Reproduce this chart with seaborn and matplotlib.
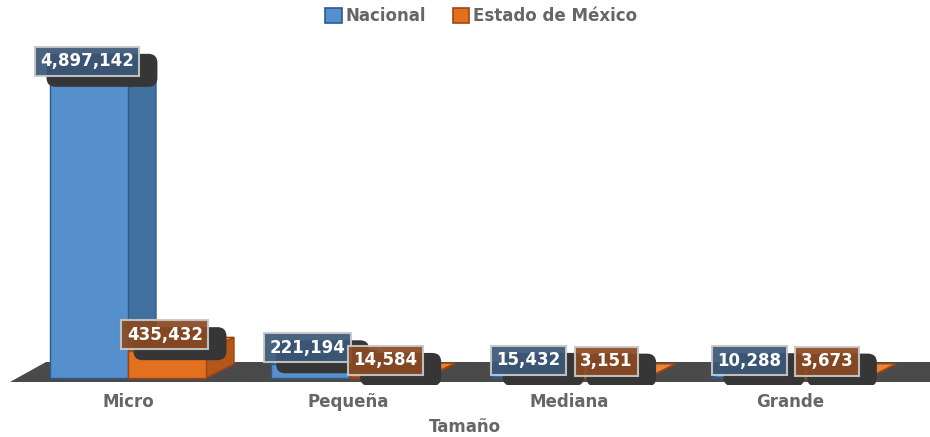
import pandas as pd
import seaborn as sns
import matplotlib.pyplot as plt
from matplotlib.patches import Patch, Polygon, FancyBboxPatch

categories = ["Micro", "Pequeña", "Mediana", "Grande"]
nacional = [4897142, 221194, 15432, 10288]
edomex = [435432, 14584, 3151, 3673]
series = ["Nacional", "Estado de México"]

df = pd.DataFrame({
    "Tamaño": categories * 2,
    "Empresas": nacional + edomex,
    "Serie": [series[0]] * 4 + [series[1]] * 4,
})

front = {"Nacional": "#5690cc", "Estado de México": "#e2701f"}
side = {"Nacional": "#42709e", "Estado de México": "#b5561a"}
top = {"Nacional": "#6aa0d8", "Estado de México": "#ec8335"}
edge = {"Nacional": "#2c5a8c", "Estado de México": "#9c4510"}
label_bg = {"Nacional": "#3a5878", "Estado de México": "#8a4a22"}
txt_gray = "#666666"

sns.set_style("white")
fig = plt.figure(figsize=(9.3, 4.37), dpi=100)
ax = fig.add_axes([0, 52 / 437, 1, 385 / 437])

s = max(nacional) / 300.0          # data units per pixel (y)
px = 1 / 220.7                    # data units per pixel (x)
dx, dy = 28 * px, 14 * s

sns.barplot(data=df, x="Tamaño", y="Empresas", hue="Serie", order=categories,
            hue_order=series, palette=front, saturation=1, width=0.707, dodge=True,
            legend=False, ax=ax, zorder=3)

ax.set_xlim(-128 * px, 3 + 140 * px)
ax.set_ylim(-7 * s, 378 * s)

# floor
fl, fr = -118 * px, 772 * px + 3
floor = Polygon([(fl, -4 * s), (fl + dx + 8 * px, 16 * s), (fr + dx, 16 * s), (fr, -4 * s)],
                closed=True, facecolor="#4a4a4a", edgecolor="none", zorder=1)
ax.add_patch(floor)

# 3d faces
for name, cont in zip(series, ax.containers):
    for bar in cont:
        x0, w, h = bar.get_x(), bar.get_width(), bar.get_height()
        x1 = x0 + w
        bar.set_edgecolor(edge[name])
        bar.set_linewidth(1)
        ax.add_patch(Polygon([(x1, 0), (x1 + dx, dy), (x1 + dx, h + dy), (x1, h)],
                             facecolor=side[name], edgecolor=edge[name], lw=1, zorder=2.9))
        ax.add_patch(Polygon([(x0, h), (x0 + dx, h + dy), (x1 + dx, h + dy), (x1, h)],
                             facecolor=top[name], edgecolor=edge[name], lw=1, zorder=2.9))

# data labels
labels = []
for name, cont in zip(series, ax.containers):
    for bar in cont:
        h = bar.get_height()
        cx = bar.get_x() + bar.get_width() / 2 - 2 * px
        t = ax.annotate(f"{int(h):,}", (cx, h), xytext=(0, 12), textcoords="offset points",
                        ha="center", va="center", fontsize=12, fontweight="bold",
                        color="white", zorder=6,
                        bbox=dict(boxstyle="square,pad=0.33", fc=label_bg[name],
                                  ec="#c8c8c8", lw=1.5, alpha=0.93))
        labels.append(t)

sns.despine(ax=ax, left=True, bottom=True)
ax.set_yticks([])
ax.tick_params(axis="x", length=0, pad=6, labelsize=12, labelcolor=txt_gray)
for lab in ax.get_xticklabels():
    lab.set_fontweight("bold")
ax.set_xlabel("Tamaño", fontsize=12, fontweight="bold", color=txt_gray, labelpad=5)
ax.set_ylabel("")

handles = [Patch(facecolor=front[n], edgecolor=edge[n], lw=1.2) for n in series]
fig.legend(handles, series, loc="center", bbox_to_anchor=(481 / 930, 1 - 16 / 437),
           ncol=2, frameon=False, prop={"size": 12, "weight": "bold"}, labelcolor=txt_gray,
           handlelength=1.0, handleheight=1.0, columnspacing=1.6, handletextpad=0.2)

# soft dark shadows behind labels (in pixel space)
fig.canvas.draw()
r = fig.canvas.get_renderer()
for t in labels:
    bb = t.get_bbox_patch().get_window_extent(r)
    sh = FancyBboxPatch((bb.x0 + 12, bb.y0 - 11), bb.width + 6, bb.height + 4,
                        boxstyle="round,pad=0,rounding_size=9", transform=None,
                        fc="#363636", ec="none", zorder=5)
    ax.add_artist(sh)

fig.savefig("out.png", dpi=100)
